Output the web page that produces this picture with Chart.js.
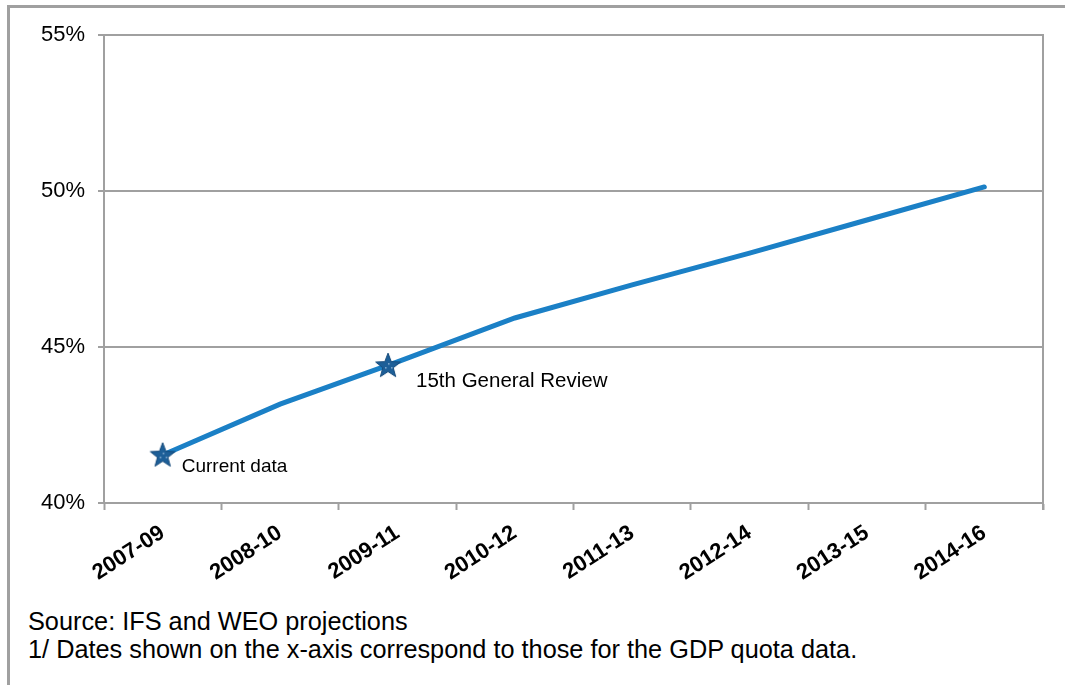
<!DOCTYPE html>
<html>
<head>
<meta charset="utf-8">
<script src="https://cdn.jsdelivr.net/npm/chart.js@4.4.1/dist/chart.umd.min.js"></script>
<style>
  body { margin: 0; background: #fff; font-family: "Liberation Sans", Arial, sans-serif; }
  #wrap { position: relative; width: 1065px; height: 685px; overflow: hidden; }
  #frame { position: absolute; left: 7px; top: 5px; right: -10px; bottom: -10px;
           border-top: 3px solid #a0a0a0; border-left: 3px solid #a0a0a0; }
  #myChart { position: absolute; left: 0; top: 0; }
  .note { position: absolute; left: 28px; font-size: 25.3px; color: #000; white-space: nowrap; }
</style>
</head>
<body>
<div id="wrap">
  <div id="frame"></div>
  <canvas id="myChart" width="1065" height="600"></canvas>
  <div class="note" style="top:607px">Source: IFS and WEO projections</div>
  <div class="note" style="top:635px">1/ Dates shown on the x-axis correspond to those for the GDP quota data.</div>
</div>
<script>
//Categories and values
const periods = ['2007-09', '2008-10', '2009-11', '2010-12', '2011-13', '2012-14', '2013-15', '2014-16'];
const shares = [41.54, 43.17, 44.52, 45.93, 46.99, 48.01, 49.07, 50.13];

//Star markers (x is a category index, can be in between)
const starX = [0, 1.92];
const starY = [41.55, 44.42];
const starLabels = ['Current data', '15th General Review'];

//Y ticks
const yMin = 40;
const yMax = 55;
const yStep = 5;

const gridGray = '#a0a0a0';

//Filled star picture used as the point style
function makeStar()
{
    const c = document.createElement('canvas');
    c.width = 28;
    c.height = 28;
    const g = c.getContext('2d');
    g.beginPath();
    for (let i = 0; i < 10; i++) {
        const r = i % 2 == 0 ? 13 : 5.5;
        const a = -Math.PI / 2 + i * Math.PI / 5;
        const px = 14 + r * Math.cos(a);
        const py = 15 + r * Math.sin(a);
        if (i == 0) g.moveTo(px, py); else g.lineTo(px, py);
    }
    g.closePath();
    g.fillStyle = '#1d5f98';
    g.fill();
    g.strokeStyle = '#14497a';
    g.lineWidth = 1;
    g.stroke();
    //little dotted center like the original marker
    g.fillStyle = '#8fb4d6';
    [[14, 12], [11, 16], [17, 16]].forEach(p => g.fillRect(p[0], p[1], 1.5, 1.5));
    return c;
}

//Draws the right edge of the plot box and the star captions
const extras = {
    id: 'extras',
    afterDatasetsDraw(chart) {
        const ctx = chart.ctx;
        const a = chart.chartArea;
        ctx.save();
        ctx.strokeStyle = gridGray;
        ctx.lineWidth = 2;
        ctx.beginPath();
        ctx.moveTo(a.right, a.top - 1);
        ctx.lineTo(a.right, a.bottom + 7);
        ctx.stroke();

        const meta = chart.getDatasetMeta(1);
        ctx.fillStyle = '#000';
        ctx.textBaseline = 'middle';
        meta.data.forEach((pt, i) => {
            if (i == 0) {
                ctx.font = '19px "Liberation Sans", Arial, sans-serif';
                ctx.fillText(starLabels[i], pt.x + 19, pt.y + 12);
            } else {
                ctx.font = '20.5px "Liberation Sans", Arial, sans-serif';
                ctx.fillText(starLabels[i], pt.x + 28, pt.y + 16);
            }
        });
        ctx.restore();
    }
};

const ctx = document.getElementById('myChart').getContext('2d');

const myChart = new Chart(ctx, {
    type: 'line',
    data: {
        labels: periods,
        datasets: [{
            data: shares,
            borderColor: '#1b80c6',
            borderWidth: 5,
            pointRadius: 0,
            tension: 0,
            borderCapStyle: 'round',
            order: 2
        }, {
            type: 'scatter',
            data: starX.map((x, i) => ({ x: x, y: starY[i] })),
            xAxisID: 'x2',
            pointStyle: makeStar(),
            pointRadius: 12,
            order: 1
        }]
    },
    options: {
        responsive: false,
        animation: false,
        layout: { padding: { top: 35, right: 22, left: 0, bottom: 0 } },
        plugins: {
            legend: { display: false },
            tooltip: { enabled: false }
        },
        scales: {
            x: {
                type: 'category',
                offset: true,
                grid: {
                    offset: true,
                    drawOnChartArea: false,
                    tickLength: 7,
                    tickColor: gridGray,
                    tickWidth: 2
                },
                border: { color: gridGray, width: 2 },
                ticks: {
                    minRotation: 33,
                    maxRotation: 33,
                    padding: 10,
                    color: '#000',
                    font: { family: '"Liberation Sans", Arial, sans-serif', size: 22, weight: 'bold' }
                },
                afterFit(scale) { scale.height = 97; }
            },
            x2: {
                type: 'linear',
                display: false,
                min: -0.5,
                max: periods.length - 0.5
            },
            y: {
                min: yMin,
                max: yMax,
                grid: {
                    color: gridGray,
                    lineWidth: 2,
                    tickLength: 6
                },
                border: { color: gridGray, width: 2 },
                ticks: {
                    stepSize: yStep,
                    padding: 13,
                    color: '#000',
                    font: { family: '"Liberation Sans", Arial, sans-serif', size: 22 },
                    callback: v => v + '%'
                },
                afterFit(scale) { scale.width = 104; }
            }
        }
    },
    plugins: [extras]
});
</script>
</body>
</html>
